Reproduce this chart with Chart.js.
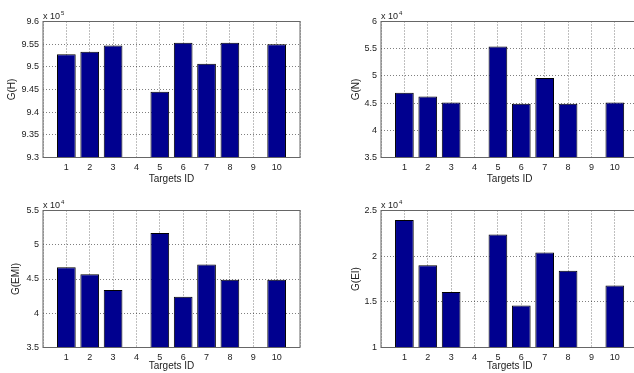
<!DOCTYPE html>
<html>
<head>
<meta charset="utf-8">
<script src="https://cdn.jsdelivr.net/npm/chart.js@4/dist/chart.umd.min.js"></script>
<style>
  html, body { margin: 0; padding: 0; background: #fff; overflow: hidden; width: 634px; height: 373px; }
  canvas { position: absolute; }
</style>
</head>
<body>
<canvas id="cH" width="317" height="186" style="left:0;top:0"></canvas>
<canvas id="cN" width="340" height="186" style="left:317px;top:0"></canvas>
<canvas id="cEMI" width="317" height="187" style="left:0;top:186px"></canvas>
<canvas id="cEI" width="340" height="187" style="left:317px;top:186px"></canvas>
<script>
// targets on the x axis
const targetIds = [1, 2, 3, 4, 5, 6, 7, 8, 9, 10];

// values as shown on each axis (multiplied by the exponent in the corner)
const gH   = [9.528, 9.533, 9.547, null, 9.445, 9.553, 9.507, 9.553, null, 9.550]; // x 10^5
const gN   = [4.69, 4.62, 4.51, null, 5.54, 4.49, 4.96, 4.49, null, 4.51];          // x 10^4
const gEMI = [4.67, 4.57, 4.34, null, 5.17, 4.24, 4.71, 4.49, null, 4.49];          // x 10^4
const gEI  = [2.397, 1.90, 1.607, null, 2.237, 1.46, 2.04, 1.84, null, 1.68];      // x 10^4

// y axis ranges [min, max, step]
const rangeH   = [9.3, 9.6, 0.05];
const rangeN   = [3.5, 6, 0.5];
const rangeEMI = [3.5, 5.5, 0.5];
const rangeEI  = [1, 2.5, 0.5];

const FONT = '"Liberation Sans", Arial, Helvetica, sans-serif';
const TEXT = '#222';
const GRID = 'rgba(0,0,0,0.5)';

// draws the box round the axes and the "x 10^n" note
const axesBox = {
  id: 'axesBox',
  afterDatasetsDraw(chart) {
    const { ctx, chartArea: a } = chart;
    ctx.save();
    ctx.strokeStyle = '#666';
    ctx.lineWidth = 1;
    ctx.strokeRect(a.left, a.top, a.right - a.left, a.bottom - a.top);
    ctx.restore();
  },
  afterDraw(chart, args, opts) {
    const { ctx, chartArea: a } = chart;
    ctx.save();
    ctx.fillStyle = TEXT;
    ctx.textBaseline = 'alphabetic';
    ctx.font = '9px ' + FONT;
    ctx.fillText('x 10', a.left, a.top - 3);
    const w = ctx.measureText('x 10').width;
    ctx.font = '6px ' + FONT;
    ctx.fillText(opts.power, a.left + w + 1, a.top - 7);
    ctx.restore();
  }
};

function makeChart(id, values, label, power, range, box) {
  // box: canvas left/top/width/height and wanted plot area in page pixels
  const canvas = document.getElementById(id);
  const yWidth = box.left - box.cx;
  const xHeight = box.cy + box.ch - box.bottom;
  new Chart(canvas, {
    type: 'bar',
    data: {
      datasets: [{
        data: targetIds.map((t, i) => ({ x: t, y: values[i] })),
        backgroundColor: '#00008f',
        borderColor: '#000',
        borderWidth: 1,
        base: range[0],
        barPercentage: 0.8,
        categoryPercentage: 1.0
      }]
    },
    options: {
      responsive: false,
      animation: false,
      devicePixelRatio: 1,
      layout: {
        padding: { left: 0, top: box.top - box.cy, right: box.cx + box.cw - box.right, bottom: 0 }
      },
      plugins: {
        legend: { display: false },
        tooltip: { enabled: false },
        axesBox: { power: power }
      },
      scales: {
        x: {
          type: 'linear',
          min: 0,
          max: 11,
          offset: false,
          afterFit: s => { s.height = xHeight; },
          ticks: {
            stepSize: 1,
            autoSkip: false,
            maxRotation: 0,
            padding: 5,
            color: TEXT,
            font: { family: FONT, size: 9 },
            callback: v => (v >= 1 && v <= 10) ? String(v) : ''
          },
          grid: { color: GRID, drawTicks: false, offset: false },
          border: { display: false, dash: [1, 2] },
          title: {
            display: true,
            text: 'Targets ID',
            color: TEXT,
            font: { family: FONT, size: 10 },
            padding: { top: 0, bottom: 1 }
          }
        },
        y: {
          min: range[0],
          max: range[1],
          afterFit: s => { s.width = yWidth; },
          ticks: {
            stepSize: range[2],
            padding: 4,
            color: TEXT,
            font: { family: FONT, size: 9 },
            callback: v => String(Number(v.toFixed(2)))
          },
          grid: { color: GRID, drawTicks: false },
          border: { display: false, dash: [1, 2] },
          title: {
            display: true,
            text: label,
            color: TEXT,
            font: { family: FONT, size: 10 },
            padding: { top: box.titlePad, bottom: 0 }
          }
        }
      }
    },
    plugins: [axesBox]
  });
}

makeChart('cH', gH, 'G(H)', '5', rangeH,
  { cx: 0, cy: 0, cw: 317, ch: 186, left: 43, right: 300, top: 21.5, bottom: 157.5, titlePad: 6 });
makeChart('cN', gN, 'G(N)', '4', rangeN,
  { cx: 317, cy: 0, cw: 340, ch: 186, left: 381, right: 638.2, top: 21.5, bottom: 157.5, titlePad: 33 });
makeChart('cEMI', gEMI, 'G(EMI)', '4', rangeEMI,
  { cx: 0, cy: 186, cw: 317, ch: 187, left: 43, right: 300, top: 210.5, bottom: 347.5, titlePad: 10 });
makeChart('cEI', gEI, 'G(EI)', '4', rangeEI,
  { cx: 317, cy: 186, cw: 340, ch: 187, left: 381, right: 638.2, top: 210.5, bottom: 347.5, titlePad: 33 });
</script>
</body>
</html>
